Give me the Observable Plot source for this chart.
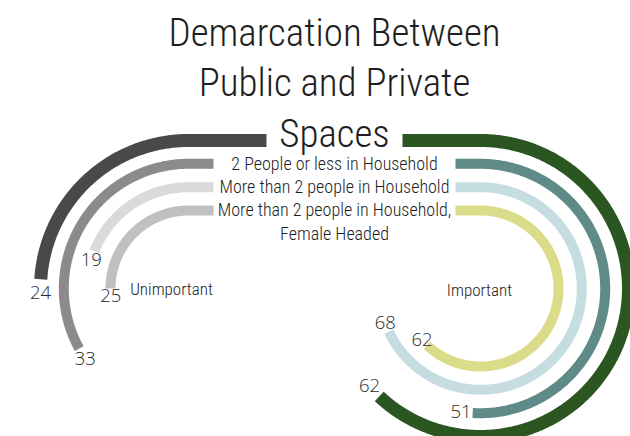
<!DOCTYPE html>
<html><head><meta charset="utf-8">
<script src="https://cdn.jsdelivr.net/npm/d3@7"></script>
<script src="https://cdn.jsdelivr.net/npm/@observablehq/plot@0.6"></script>
<style>
html,body{margin:0;padding:0;background:#fff;}
#chart svg{display:block;}
.cond text{font-stretch:condensed;}
</style>
</head><body><div id="chart"></div>
<script>
// ---- data ----
const categories = ["All Households", "2 People or less in Household", "More than 2 people in Household", "More than 2 people in Household, Female Headed"];
const sides = ["Unimportant", "Important"];
const unimportant = [24, 33, 19, 25];
const important = [62, 51, 68, 62];
const unimportantColors = ["#4a4849", "#8b8b8b", "#dadada", "#c0c0c0"];
const importantColors = ["#2b5521", "#5e8b87", "#c5dde0", "#dbdc89"];
const titleLines = ["Demarcation Between", "Public and Private", "Spaces"];

// ---- layout ----
const W = 630, H = 436;
const centers = {Unimportant: 188, Important: 480};
const dirs = {Unimportant: -1, Important: 1};
const cy = 288, midX = 334;
const radii = [148, 124.7, 101.3, 78];
const leads = [78, 25, 25, 25];
const ang = d3.scaleLinear().domain([0, 100]).range([0, 2 * Math.PI]);
const condFont = "Roboto, 'DejaVu Sans', sans-serif";
const plain = "'Open Sans', 'Noto Sans', sans-serif";

const values = {Unimportant: unimportant, Important: important};
const colorsBySide = {Unimportant: unimportantColors, Important: importantColors};

const arcRows = [];
const labelRows = [];
const keys = [], colors = [];
for (const side of sides) {
  const cx = centers[side], dir = dirs[side];
  values[side].forEach((v, i) => {
    const key = side + "|" + categories[i];
    keys.push(key); colors.push(colorsBySide[side][i]);
    const r = radii[i];
    arcRows.push({key, i, x: cx - dir * leads[i], y: cy - r});
    const a1 = ang(v);
    const n = Math.max(2, Math.ceil(a1 / 0.01));
    for (let k = 0; k <= n; k++) {
      const a = a1 * k / n;
      arcRows.push({key, i, x: cx + dir * r * Math.sin(a), y: cy - r * Math.cos(a)});
    }
    const al = ang(v + 1.5);
    labelRows.push({text: String(v), x: cx + dir * r * Math.sin(al), y: cy - r * Math.cos(al)});
  });
}

const legendRows = [];
categories.slice(1).forEach((c, j) => {
  const i = j + 1;
  c.split(/(?<=,) /).forEach((line, k) => {
    legendRows.push({text: line, x: midX, y: cy - radii[i] + k * 23.5});
  });
});

const titleRows = titleLines.map((t, k) => ({text: t, x: midX, y: 45 + k * 50.5}));
const sideRows = [
  {text: sides[0], x: centers.Unimportant - 17, y: 289},
  {text: sides[1], x: centers.Important - 1, y: 290}
];

const chart = Plot.plot({
  width: W, height: H, margin: 0,
  x: {domain: [0, W], range: [0, W], axis: null},
  y: {domain: [0, H], range: [0, H], axis: null},
  color: {domain: keys, range: colors},
  marks: [
    Plot.line(arcRows.filter(d => d.i === 0), {x: "x", y: "y", z: "key", stroke: "key", strokeWidth: 13, strokeLinecap: "butt"}),
    Plot.line(arcRows.filter(d => d.i > 0), {x: "x", y: "y", z: "key", stroke: "key", strokeWidth: 10, strokeLinecap: "butt"}),
    Plot.text(titleRows, {x: "x", y: "y", text: "text", fontSize: 39, fontFamily: condFont, fontWeight: 300, fill: "#1e1e1e", lineAnchor: "bottom", className: "cond title"}),
    Plot.text(legendRows, {x: "x", y: "y", text: "text", fontSize: 18, fontFamily: condFont, fontWeight: 300, fill: "#1e1e1e", lineAnchor: "middle", className: "cond legend"}),
    Plot.text(sideRows, {x: "x", y: "y", text: "text", fontSize: 17, fontFamily: condFont, fontWeight: 300, fill: "#1e1e1e", lineAnchor: "middle", className: "cond side"}),
    Plot.text(labelRows, {x: "x", y: "y", text: "text", fontSize: 18.5, fontFamily: plain, fontWeight: 300, fill: "#2a2a2a", lineAnchor: "middle"})
  ]
});
document.getElementById("chart").appendChild(chart);

// condense the narrow-typeface texts horizontally (style only)
function squeeze(selector, refText, refWidth) {
  const texts = Array.from(chart.querySelectorAll(selector + " text"));
  const ref = texts.find(t => t.textContent === refText);
  if (!ref) return 1;
  return Math.min(1, refWidth / ref.getComputedTextLength());
}
const fTitle = squeeze(".title", titleLines[0], 337);
const fLegend = squeeze(".legend", categories[2], 232);
function apply(selector, f) {
  chart.querySelectorAll(selector + " text").forEach(t => {
    const w = t.getComputedTextLength();
    t.setAttribute("textLength", (w * f).toFixed(2));
    t.setAttribute("lengthAdjust", "spacingAndGlyphs");
  });
}
apply(".title", fTitle);
apply(".legend", fLegend);
apply(".side", fLegend);
</script>
</body></html>
